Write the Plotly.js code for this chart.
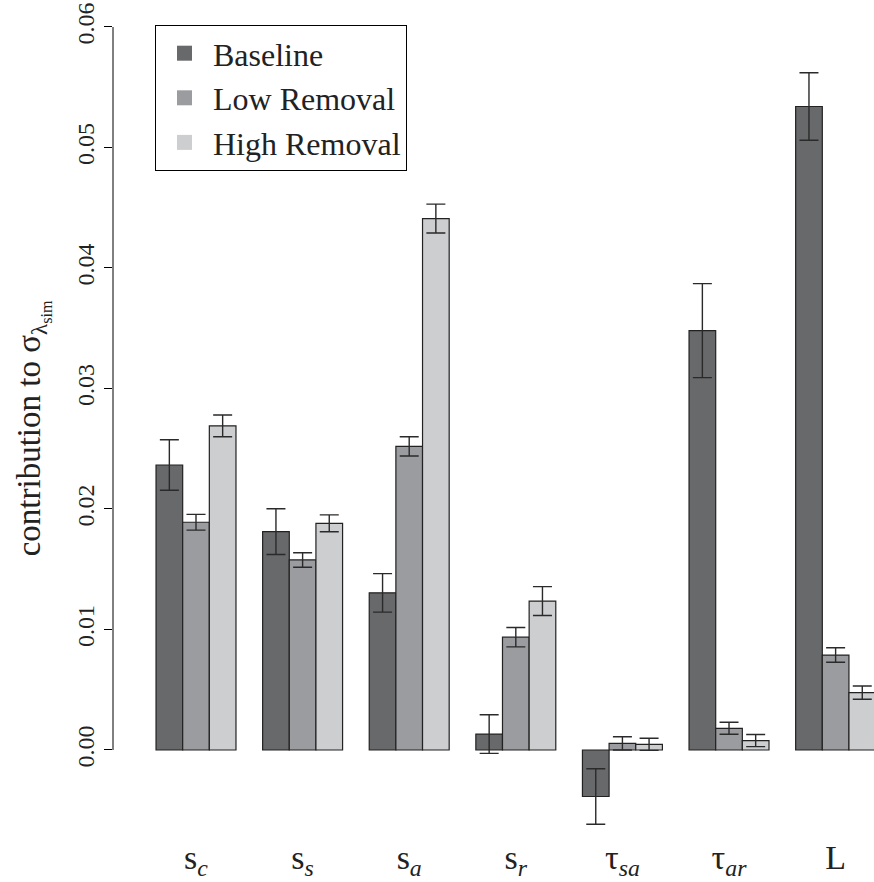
<!DOCTYPE html>
<html>
<head>
<meta charset="utf-8">
<script src="https://cdn.plot.ly/plotly-3.0.1.min.js"></script>
<style>
html,body{margin:0;padding:0;background:#fff;overflow:hidden;}
#chart{width:874px;height:882px;}
</style>
</head>
<body>
<div id="chart"></div>
<script>
// categories (x-axis labels)
var categories = ['s<sub><i>c</i></sub>', 's<sub><i>s</i></sub>', 's<sub><i>a</i></sub>', 's<sub><i>r</i></sub>',
                  'τ<sub><i>sa</i></sub>', 'τ<sub><i>ar</i></sub>', 'L'];
var seriesNames = ['Baseline', 'Low Removal', 'High Removal'];
var yTitle = 'contribution to σ<sub>λ<sub>sim</sub></sub>';

// values
var baseline    = [0.02365, 0.01812, 0.01304, 0.00132, -0.00386, 0.0348, 0.0534];
var baselineErr = [0.0021, 0.0019, 0.0016, 0.0016, 0.0023, 0.0039, 0.0028];
var lowRemoval    = [0.0189, 0.01577, 0.0252, 0.00936, 0.00055, 0.0018, 0.00788];
var lowRemovalErr = [0.00065, 0.0006, 0.0008, 0.0008, 0.00055, 0.0005, 0.0006];
var highRemoval    = [0.0269, 0.01881, 0.0441, 0.01236, 0.00047, 0.00078, 0.00476];
var highRemovalErr = [0.0009, 0.0007, 0.0012, 0.0012, 0.0005, 0.0005, 0.00055];

var yTickVals = [0, 0.01, 0.02, 0.03, 0.04, 0.05, 0.06];
var yTickText = ['0.00', '0.01', '0.02', '0.03', '0.04', '0.05', '0.06'];

var colors = ['#68696b', '#9b9c9f', '#cdced0'];
var values = [baseline, lowRemoval, highRemoval];
var errors = [baselineErr, lowRemovalErr, highRemovalErr];

var xIdx = categories.map(function(_, i){ return i; });
var FONT = 'Liberation Serif';

var traces = [];
for (var s = 0; s < 3; s++) {
  traces.push({
    type: 'bar',
    x: xIdx,
    y: values[s],
    name: seriesNames[s],
    showlegend: false,
    marker: {color: colors[s], line: {color: '#222222', width: 1.2}},
    error_y: {type: 'data', array: errors[s], visible: true, color: '#2a2a2a', thickness: 1.4, width: 9.5}
  });
}
// legend-only swatches (no outline, like the original)
for (var s2 = 0; s2 < 3; s2++) {
  traces.push({
    type: 'scatter', mode: 'markers', x: [null], y: [null],
    name: seriesNames[s2], showlegend: true, hoverinfo: 'skip',
    marker: {symbol: 'square', size: 15, color: colors[s2], line: {width: 0}}
  });
}

var layout = {
  width: 874, height: 882,
  margin: {l: 113, r: 0, t: 0, b: 52},
  paper_bgcolor: '#fff', plot_bgcolor: '#fff',
  font: {family: FONT, color: '#000'},
  barmode: 'group', bargap: 0.25, bargroupgap: 0,
  showlegend: true,
  legend: {
    x: 0.0552, xanchor: 'left', y: 0.97, yanchor: 'top',
    bordercolor: '#000', borderwidth: 1, bgcolor: '#fff',
    font: {family: FONT, size: 32, color: '#222'},
    itemwidth: 47, tracegroupgap: 0
  },
  xaxis: {
    range: [-0.7786, 6.360],
    tickmode: 'array', tickvals: xIdx, ticktext: categories,
    showline: false, zeroline: false, showgrid: false, ticks: '',
    ticklabelstandoff: 4,
    tickfont: {family: FONT, size: 34, color: '#222'}
  },
  yaxis: {
    range: [-0.00664, 0.06224],
    tickmode: 'array', tickvals: yTickVals, ticktext: yTickText,
    ticks: 'outside', ticklen: 8, tickwidth: 1, tickcolor: '#000',
    tickangle: -90,
    tickfont: {family: FONT, size: 24, color: '#222'},
    showline: false, zeroline: false, showgrid: false
  },
  annotations: [{
    text: yTitle, textangle: -90, showarrow: false,
    xref: 'paper', yref: 'y', x: -0.105, y: 0.0267,
    xanchor: 'center', yanchor: 'middle',
    font: {family: FONT, size: 33, color: '#222'}
  }],
  shapes: [{
    type: 'line', xref: 'paper', yref: 'y', x0: 0, x1: 0, y0: 0, y1: 0.06,
    line: {color: '#000', width: 1}
  }]
};

Plotly.newPlot('chart', traces, layout, {displayModeBar: false, staticPlot: true});
</script>
</body>
</html>
